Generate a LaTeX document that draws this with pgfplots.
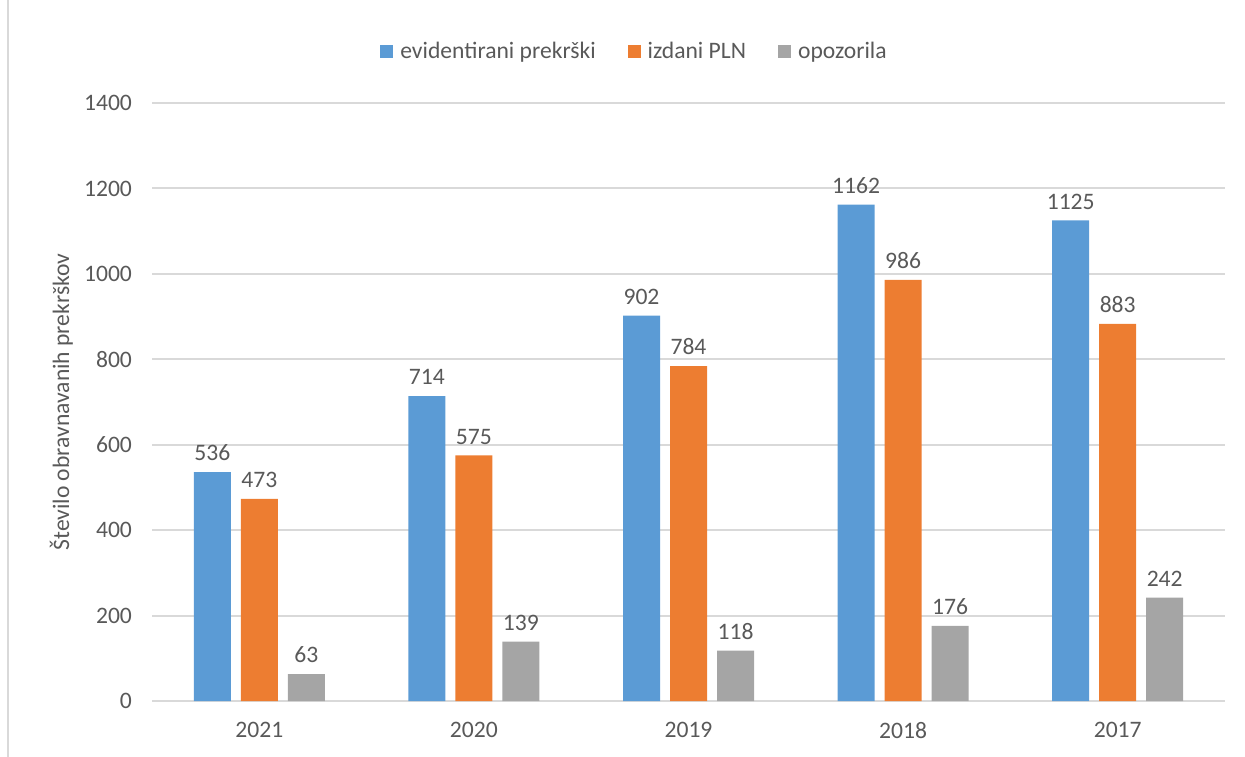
\documentclass[border=0pt]{standalone}
\usepackage{pgfplots}
\pgfplotsset{compat=1.18}
\usepackage{fontspec}
\setmainfont{Carlito}
\definecolor{cblue}{HTML}{5B9BD5}
\definecolor{corange}{HTML}{ED7D31}
\definecolor{cgray}{HTML}{A5A5A5}
\definecolor{tgray}{HTML}{595959}
\definecolor{gridc}{HTML}{D9D9D9}
\newcommand\cf{\fontsize{11.8pt}{14pt}\selectfont}
\begin{document}
\begin{tikzpicture}
\path[use as bounding box] (0pt,0pt) rectangle (622.5pt,378pt);
\draw[color=gridc, line width=1pt] (4pt,-1pt) -- (4pt,379pt);
\begin{axis}[
  at={(76pt,27.5pt)}, anchor=south west,
  scale only axis, width=536.5pt, height=299pt,
  xmin=-0.5, xmax=4.5, ymin=0, ymax=1400,
  ybar=5pt, bar width=18.5pt,
  xtick={0,1,2,3,4}, xticklabels={2021,2020,2019,2018,2017},
  ytick={0,200,...,1400},
  ymajorgrids, grid style={color=gridc, line width=1pt},
  axis line style={draw=none}, major tick length=0pt,
  /pgf/number format/assume math mode=true,
  /pgf/number format/1000 sep={},
  tick label style={font=\cf, color=tgray},
  yticklabel style={xshift=-6.5pt},
  xticklabel style={yshift=-7pt},
  ylabel={Število obravnavanih prekrškov},
  ylabel style={font=\cf, color=tgray, at={(axis description cs:-0.0845,0.5)}, anchor=center},
  nodes near coords,
  every node near coord/.append style={font=\cf, color=tgray, anchor=south, yshift=2pt},
  legend columns=3,
  legend style={draw=none, fill=none, font=\cf, text=tgray,
    at={(axis description cs:0.4506,1.0853)}, anchor=center,
    /tikz/every odd column/.append style={column sep=1.5pt},
    /tikz/every even column/.append style={column sep=14pt}},
  legend image code/.code={\fill[#1,draw=none] (0pt,-3.25pt) rectangle (6.5pt,3.25pt);},
]
\addplot[fill=cblue, draw=none] coordinates {(0,536) (1,714) (2,902) (3,1162) (4,1125)};
\addplot[fill=corange, draw=none] coordinates {(0,473) (1,575) (2,784) (3,986) (4,883)};
\addplot[fill=cgray, draw=none] coordinates {(0,63) (1,139) (2,118) (3,176) (4,242)};
\legend{evidentirani prekrški, izdani PLN, opozorila}
\end{axis}
\end{tikzpicture}
\end{document}
